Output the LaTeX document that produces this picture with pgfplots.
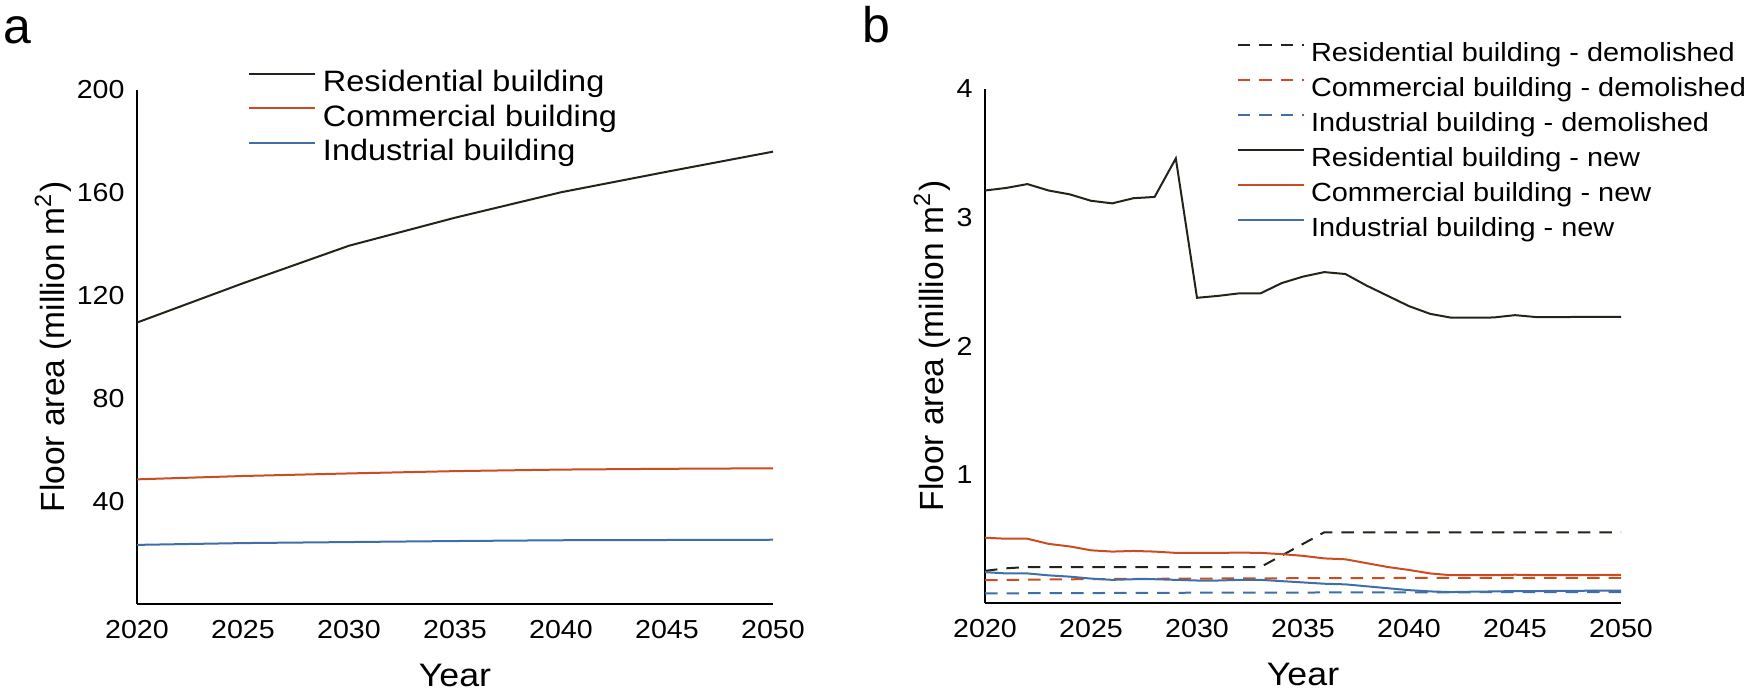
\documentclass[border=0pt]{standalone}
\usepackage{fontspec}
\setmainfont{Liberation Sans}[FakeStretch=1.1]
\newfontfamily\labelfont{Liberation Sans}
\usepackage{pgfplots}
\pgfplotsset{compat=1.18}

\definecolor{resblack}{RGB}{35,35,25}
\definecolor{comred}{RGB}{204,76,34}
\definecolor{indblue}{RGB}{64,110,166}

\pgfplotsset{
  floorstyle/.style={
    scale only axis, width=254.4pt, height=205.6pt,
    axis lines=left, axis line style={-, line width=0.6pt, black},
    major tick length=0pt,
    xmin=2020, xmax=2050, xtick={2020,2025,...,2050},
    tick label style={font=\fontsize{10.4}{12}\selectfont,
      /pgf/number format/assume math mode=true},
    xticklabel style={/pgf/number format/1000 sep={}, inner sep=0pt, anchor=north, yshift=-6.2pt},
    yticklabel style={inner sep=0pt, anchor=east, xshift=-4.8pt},
    xlabel=Year, ylabel={Floor area (million m\textsuperscript{2})},
    xlabel style={font=\fontsize{13}{15}\selectfont, at={(axis description cs:0.5,-0.14)}, anchor=center},
    legend style={draw=none, fill=none, inner sep=0pt, anchor=north west,
      font=\fontsize{10.5}{12}\selectfont,
      nodes={inner sep=0pt, text height=10pt, text depth=4pt},
      /tikz/every odd column/.append style={column sep=2.6pt}},
    legend cell align=left,
    legend image code/.code={\draw[#1] (0pt,3.6pt) -- (26.4pt,3.6pt);},
    every axis plot/.append style={line width=0.8pt},
    demol/.style={dash pattern=on 5pt off 3.6pt},
  }
}

\begin{document}
\begin{tikzpicture}
\path[use as bounding box] (0,0) rectangle (700pt,277.2pt);
\node[anchor=base west, inner sep=0pt, font=\labelfont\fontsize{20}{24}\selectfont] at (1.2pt,259.9pt) {a};
\node[anchor=base west, inner sep=0pt, font=\labelfont\fontsize{20}{24}\selectfont] at (344.8pt,260pt) {b};

\begin{axis}[floorstyle, at={(54.8pt,35.6pt)}, anchor=south west,
  ymin=0, ymax=200, ytick={40,80,...,200},
  ylabel style={font=\labelfont\fontsize{13.4}{15}\selectfont, at={(axis description cs:-0.132,0.5)}, anchor=center},
  legend style={at={(0.1745,1.046)}, font=\fontsize{11.8}{13}\selectfont,
    nodes={inner sep=0pt, text height=10pt, text depth=3.8pt}},
  legend image code/.code={\draw[#1] (0pt,4.1pt) -- (26.4pt,4.1pt);}]
\addplot[resblack] coordinates {(2020,109.5) (2025,124.8) (2030,139.4) (2035,150.3) (2040,160.2) (2045,168.2) (2050,176.0)};
\addlegendentry{Residential building}
\addplot[comred] coordinates {(2020,48.5) (2025,49.8) (2030,50.8) (2035,51.7) (2040,52.3) (2045,52.6) (2050,52.8)};
\addlegendentry{Commercial building}
\addplot[indblue] coordinates {(2020,23.0) (2025,23.7) (2030,24.1) (2035,24.5) (2040,24.8) (2045,24.9) (2050,25.0)};
\addlegendentry{Industrial building}
\end{axis}

\begin{axis}[floorstyle, at={(394pt,36pt)}, anchor=south west,
  ymin=0, ymax=4, ytick={1,2,3,4},
  ylabel style={font=\labelfont\fontsize{13.4}{15}\selectfont, at={(axis description cs:-0.0833,0.5)}, anchor=center},
  legend style={at={(0.3947,1.104)}}]
\addplot[resblack, demol] coordinates {(2020,0.25) (2021,0.27) (2022,0.28) (2033,0.28) (2036,0.55) (2050,0.55)};
\addlegendentry{Residential building - demolished}
\addplot[comred, demol] coordinates {(2020,0.178) (2025,0.186) (2030,0.19) (2035,0.193) (2040,0.195) (2050,0.196)};
\addlegendentry{Commercial building - demolished}
\addplot[indblue, demol] coordinates {(2020,0.075) (2030,0.08) (2040,0.083) (2050,0.085)};
\addlegendentry{Industrial building - demolished}
\addplot[resblack] coordinates {
  (2020,3.21) (2021,3.23) (2022,3.26) (2023,3.21) (2024,3.18) (2025,3.13)
  (2026,3.11) (2027,3.15) (2028,3.16) (2029,3.46) (2030,2.375) (2031,2.39)
  (2032,2.41) (2033,2.41) (2034,2.49) (2035,2.54) (2036,2.575) (2037,2.56)
  (2038,2.47) (2039,2.39) (2040,2.31) (2041,2.25) (2042,2.22) (2043,2.22)
  (2044,2.222) (2045,2.24) (2046,2.225) (2047,2.225) (2048,2.226) (2049,2.227) (2050,2.227)};
\addlegendentry{Residential building - new}
\addplot[comred] coordinates {
  (2020,0.508) (2021,0.50) (2022,0.50) (2023,0.46) (2024,0.44) (2025,0.41)
  (2026,0.40) (2027,0.405) (2028,0.40) (2029,0.39) (2030,0.39) (2031,0.39)
  (2032,0.392) (2033,0.39) (2034,0.38) (2035,0.367) (2036,0.347) (2037,0.34)
  (2038,0.31) (2039,0.28) (2040,0.257) (2041,0.23) (2042,0.216) (2043,0.216)
  (2044,0.216) (2045,0.22) (2046,0.217) (2047,0.217) (2048,0.217) (2049,0.218) (2050,0.218)};
\addlegendentry{Commercial building - new}
\addplot[indblue] coordinates {
  (2020,0.24) (2021,0.23) (2022,0.23) (2023,0.215) (2024,0.205) (2025,0.19)
  (2026,0.18) (2027,0.185) (2028,0.185) (2029,0.18) (2030,0.175) (2031,0.175)
  (2032,0.18) (2033,0.18) (2034,0.17) (2035,0.16) (2036,0.15) (2037,0.145)
  (2038,0.13) (2039,0.115) (2040,0.10) (2041,0.09) (2042,0.085) (2043,0.088)
  (2044,0.09) (2045,0.093) (2046,0.093) (2047,0.094) (2048,0.095) (2049,0.096) (2050,0.096)};
\addlegendentry{Industrial building - new}
\end{axis}
\end{tikzpicture}
\end{document}
